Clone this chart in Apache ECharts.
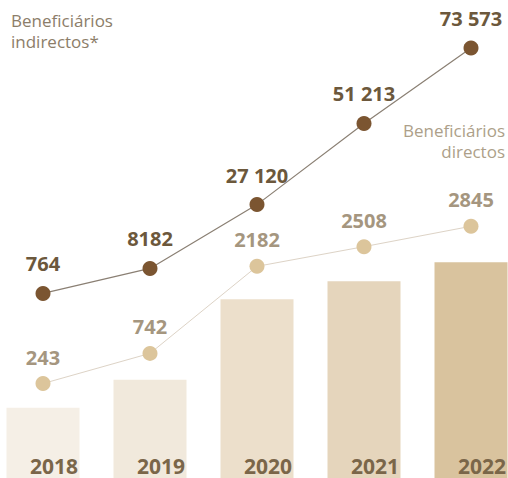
<!DOCTYPE html>
<html>
<head>
<meta charset="utf-8">
<script src="https://cdn.jsdelivr.net/npm/echarts@6/dist/echarts.min.js"></script>
<style>
  html, body { margin: 0; padding: 0; background: #ffffff; }
  #chart { width: 508px; height: 478px; }
</style>
</head>
<body>
<div id="chart"></div>
<script>
// Beneficiaries per year
const years = ['2018', '2019', '2020', '2021', '2022'];
const indirectBeneficiaries = [764, 8182, 27120, 51213, 73573];
const directBeneficiaries = [243, 742, 2182, 2508, 2845];

const barColors = ['#f5efe6', '#f1e9dc', '#ecdfcb', '#e5d5bc', '#d9c39e'];

// thousands separated by a space from five digits on (8182 stays as is)
function fmt(n) {
  return n >= 10000 ? String(n).replace(/\B(?=(\d{3})+(?!\d))/g, ' ') : String(n);
}

const font = '"Open Sans", "Noto Sans", sans-serif';

const chart = echarts.init(document.getElementById('chart'), null, { renderer: 'svg' });

chart.setOption({
  animation: false,
  backgroundColor: '#ffffff',
  grid: {
    left: -10.5, right: -16.5, top: 0, bottom: 0,
    containLabel: false,
    outerBoundsMode: 'none'
  },
  xAxis: {
    type: 'category',
    data: years,
    axisLine: { show: false },
    axisTick: { show: false },
    splitLine: { show: false },
    axisLabel: {
      inside: true,
      margin: 2,
      padding: [0, 0, 0, 22],
      color: '#7a6649',
      fontFamily: font,
      fontWeight: 'bold',
      fontSize: 21
    },
    z: 5
  },
  yAxis: [
    // bars
    { type: 'value', min: -1017, max: 7542, startValue: -1017, show: false },
    // indirect line
    { type: 'value', min: -54006, max: 87834, show: false },
    // direct line
    { type: 'value', min: -1320, max: 6589, show: false }
  ],
  graphic: [
    {
      type: 'text', x: 11, y: 10,
      style: {
        text: 'Beneficiários\nindirectos*',
        fill: '#8c7d69', font: '17px ' + font, lineHeight: 21,
        align: 'left', verticalAlign: 'top'
      }
    },
    {
      type: 'text', x: 505, y: 120,
      style: {
        text: 'Beneficiários\ndirectos',
        fill: '#ad9f89', font: '17px ' + font, lineHeight: 21,
        align: 'right', verticalAlign: 'top'
      }
    }
  ],
  series: [
    {
      type: 'bar',
      yAxisIndex: 0,
      barWidth: 73,
      data: directBeneficiaries.map((v, i) => ({ value: v, itemStyle: { color: barColors[i] } })),
      z: 1
    },
    {
      type: 'line',
      yAxisIndex: 1,
      data: indirectBeneficiaries,
      symbol: 'circle',
      symbolSize: 15,
      itemStyle: { color: '#7b5531' },
      lineStyle: { color: '#8a7f73', width: 1.2 },
      label: {
        show: true, position: 'top', distance: 12,
        formatter: p => fmt(p.value),
        color: '#6c583c', fontFamily: font, fontWeight: 'bold', fontSize: 20
      },
      z: 4
    },
    {
      type: 'line',
      yAxisIndex: 2,
      data: directBeneficiaries,
      symbol: 'circle',
      symbolSize: 15,
      itemStyle: { color: '#dcc59b' },
      lineStyle: { color: '#ddd3c6', width: 1 },
      label: {
        show: true, position: 'top', distance: 9,
        formatter: p => fmt(p.value),
        color: '#a5967f', fontFamily: font, fontWeight: 'bold', fontSize: 20
      },
      z: 3
    }
  ]
});
</script>
</body>
</html>
